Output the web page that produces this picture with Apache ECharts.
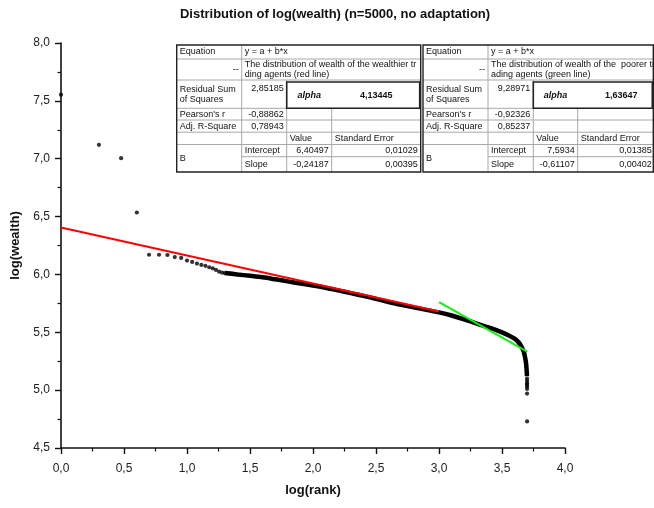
<!DOCTYPE html>
<html>
<head>
<meta charset="utf-8">
<script src="https://cdn.jsdelivr.net/npm/echarts@6/dist/echarts.min.js"></script>
<style>
html,body{margin:0;padding:0;background:#fff;}
#c{width:654px;height:508px;}
</style>
</head>
<body>
<div id="c"></div>
<script>
// ---------- data ----------
const chartTitle = 'Distribution of log(wealth) (n=5000, no adaptation)';
const xTitle = 'log(rank)';
const yTitle = 'log(wealth)';

// sparse richest agents (individual dots)
const headLogRank   = [0, 0.301, 0.477, 0.602, 0.699, 0.778, 0.845, 0.903, 0.954, 1.000, 1.041, 1.079, 1.114, 1.146, 1.176, 1.204, 1.230, 1.255, 1.279, 1.301, 1.322, 1.342, 1.362];
const headLogWealth = [7.553, 7.120, 7.005, 6.535, 6.170, 6.170, 6.168, 6.150, 6.143, 6.120, 6.108, 6.094, 6.082, 6.074, 6.062, 6.053, 6.039, 6.024, 6.015, 6.012, 6.010, 6.008, 6.005];

// dense body of the distribution (thousands of overlapping dots)
const bodyLogRank   = [1.30, 1.40, 1.50, 1.60, 1.70, 1.80, 1.90, 2.00, 2.10, 2.20, 2.30, 2.40, 2.50, 2.60, 2.70, 2.80, 2.90, 3.00, 3.10, 3.20, 3.30, 3.40, 3.50, 3.55, 3.60, 3.63, 3.65, 3.67, 3.68, 3.69, 3.695, 3.698];
const bodyLogWealth = [6.012, 6.000, 5.988, 5.975, 5.958, 5.940, 5.922, 5.905, 5.885, 5.862, 5.838, 5.815, 5.789, 5.762, 5.738, 5.715, 5.694, 5.672, 5.645, 5.612, 5.575, 5.540, 5.500, 5.475, 5.445, 5.415, 5.385, 5.340, 5.300, 5.240, 5.180, 5.120];

// poorest agents (tail dots)
const tailLogRank   = [3.699, 3.699, 3.699, 3.699, 3.699, 3.699, 3.699, 3.699];
const tailLogWealth = [5.100, 5.080, 5.060, 5.045, 5.030, 5.010, 4.970, 4.730];

// linear fits (from the tables)
const redFit   = {intercept: 6.40497, slope: -0.24187, from: 0.0, to: 3.0};
const greenFit = {intercept: 7.5934,  slope: -0.61107, from: 3.0, to: 3.70};

// axis ticks
const xTicks = [0, 0.5, 1.0, 1.5, 2.0, 2.5, 3.0, 3.5, 4.0];
const yTicks = [4.5, 5.0, 5.5, 6.0, 6.5, 7.0, 7.5, 8.0];

// table texts
const table1Desc = ['The distribution of wealth of the wealthier tra', 'ding agents (red line)'];
const table1Vals = ['2,85185', '4,13445', '-0,88862', '0,78943', '6,40497', '0,01029', '-0,24187', '0,00395'];
const table2Desc = ['The distribution of wealth of the  poorer tr', 'ading agents (green line)'];
const table2Vals = ['9,28971', '1,63647', '-0,92326', '0,85237', '7,5934', '0,01385', '-0,61107', '0,00402'];

// ---------- build ----------
const zip = (a, b) => a.map((v, i) => [v, b[i]]);
const fitLine = f => [[f.from, f.intercept + f.slope * f.from], [f.to, f.intercept + f.slope * f.to]];
const fmt = v => v.toFixed(1).replace('.', ',');

const FONT = '"Liberation Sans", Arial, sans-serif';
const tfont = '9px ' + FONT;

function buildTable(cols, rows, desc, vals, descWidth, alphaRight, valPad) {
  const els = [];
  const light = '#a8a8a8', dark = '#222';
  const hl = (x1, x2, y, c, w) => els.push({type: 'line', silent: true, z: 101, shape: {x1, y1: y, x2, y2: y}, style: {stroke: c || light, lineWidth: w || 1}});
  const vl = (x, y1, y2, c, w) => els.push({type: 'line', silent: true, z: 101, shape: {x1: x, y1, x2: x, y2}, style: {stroke: c || light, lineWidth: w || 1}});
  const tx = (t, x, y, align, opts) => els.push(Object.assign({type: 'text', silent: true, z: 102, x, y,
    style: Object.assign({text: t, font: tfont, fill: '#111', align: align || 'left', verticalAlign: 'middle'}, (opts || {}))}));
  const [c0, c1, c2, c3, c4] = cols;
  const r = rows;
  els.push({type: 'rect', silent: true, z: 100, shape: {x: c0, y: r[0], width: c4 - c0, height: r[8] - r[0]}, style: {fill: '#fff'}});
  for (let i = 1; i < 8; i++) {
    if (i === 7) { hl(c1, c4, r[i]); } else { hl(c0, c4, r[i]); }
  }
  vl(c1, r[0], r[8]);
  vl(c2, r[2], r[8]);
  vl(c3, r[3], r[8]);
  els.push({type: 'rect', silent: true, z: 103, shape: {x: c2, y: r[2] + 2, width: c4 - c2 - 1, height: r[3] - r[2] - 2}, style: {fill: 'none', stroke: dark, lineWidth: 1.6}});
  els.push({type: 'rect', silent: true, z: 104, shape: {x: c0, y: r[0], width: c4 - c0, height: r[8] - r[0]}, style: {fill: 'none', stroke: dark, lineWidth: 1.4}});
  const mid = i => (r[i] + r[i + 1]) / 2;
  const p = 3;
  tx('Equation', c0 + p, mid(0));
  tx('y = a + b*x', c1 + p, mid(0));
  tx('--', c1 - p, mid(1), 'right');
  tx(desc[0], c1 + p, mid(1) - 4.6, 'left', {width: descWidth, overflow: 'truncate', ellipsis: ''});
  tx(desc[1], c1 + p, mid(1) + 4.6, 'left', {width: descWidth, overflow: 'truncate', ellipsis: ''});
  tx('Residual Sum', c0 + p, r[2] + 9.5);
  tx('of Squares', c0 + p, r[2] + 19.5);
  tx(vals[0], c2 - p, r[2] + 8.5, 'right');
  tx('alpha', (c2 + c3) / 2, mid(2) + 1, 'center', {font: 'italic bold 9px ' + FONT});
  tx(vals[1], (c3 + alphaRight) / 2, mid(2) + 1, 'center', {font: 'bold 9px ' + FONT});
  tx("Pearson's r", c0 + p, mid(3));
  tx(vals[2], c2 - p, mid(3), 'right');
  tx('Adj. R-Square', c0 + p, mid(4));
  tx(vals[3], c2 - p, mid(4), 'right');
  tx('Value', c2 + p, mid(5));
  tx('Standard Error', c3 + p, mid(5));
  tx('B', c0 + p, (r[6] + r[8]) / 2);
  tx('Intercept', c1 + p, mid(6));
  tx(vals[4], c3 - p, mid(6), 'right');
  tx(vals[5], c4 - valPad, mid(6), 'right');
  tx('Slope', c1 + p, mid(7));
  tx(vals[6], c3 - p, mid(7), 'right');
  tx(vals[7], c4 - valPad, mid(7), 'right');
  return els;
}

const rowsY = [45, 59, 80, 108.3, 120, 132.2, 144.5, 156.7, 172];
const graphics = []
  .concat(buildTable([176.7, 241.7, 286.7, 331.7, 420.7], rowsY, table1Desc, table1Vals, 177, 420.7, 3))
  .concat(buildTable([423, 488, 533.3, 577.7, 653.3], rowsY, table2Desc, table2Vals, 300, 665, 1.5));

const chart = echarts.init(document.getElementById('c'), null, {renderer: 'canvas'});
chart.setOption({
  animation: false,
  backgroundColor: '#fff',
  title: {
    text: chartTitle, left: 330, top: 3, textAlign: 'center',
    textStyle: {fontFamily: FONT, fontSize: 13, fontWeight: 'bold', color: '#111'}
  },
  grid: {left: 61, right: 89, top: 43, bottom: 60, outerBoundsMode: 'none', containLabel: false},
  xAxis: {
    type: 'value', min: xTicks[0], max: xTicks[xTicks.length - 1], interval: 0.5,
    name: xTitle, nameLocation: 'middle', nameGap: 36,
    nameTextStyle: {fontFamily: FONT, fontSize: 13, fontWeight: 'bold', color: '#111'},
    axisLine: {show: true, onZero: false, lineStyle: {color: '#111', width: 1.6}},
    axisTick: {show: true, inside: false, length: 6, lineStyle: {color: '#111', width: 1.4}},
    minorTick: {show: true, splitNumber: 2, length: 3.5, lineStyle: {color: '#111', width: 1.2}},
    splitLine: {show: false},
    axisLabel: {formatter: fmt, fontFamily: FONT, fontSize: 12, color: '#222', margin: 15}
  },
  yAxis: {
    type: 'value', min: yTicks[0], max: yTicks[yTicks.length - 1], interval: 0.5,
    name: yTitle, nameLocation: 'middle', nameGap: 34, nameRotate: 90,
    nameTextStyle: {fontFamily: FONT, fontSize: 13, fontWeight: 'bold', color: '#111'},
    axisLine: {show: true, onZero: false, lineStyle: {color: '#111', width: 1.6}},
    axisTick: {show: true, inside: false, length: 6, lineStyle: {color: '#111', width: 1.4}},
    minorTick: {show: true, splitNumber: 2, length: 3.5, lineStyle: {color: '#111', width: 1.2}},
    splitLine: {show: false},
    axisLabel: {formatter: fmt, fontFamily: FONT, fontSize: 12, color: '#222', margin: 11}
  },
  series: [
    {type: 'line', data: zip(bodyLogRank, bodyLogWealth), showSymbol: false, symbol: 'none', smooth: 0.3,
     lineStyle: {color: '#000', width: 4.5}, z: 2, silent: true},
    {type: 'scatter', data: zip(headLogRank, headLogWealth), symbol: 'circle', symbolSize: 4.2,
     itemStyle: {color: '#000'}, z: 3, silent: true},
    {type: 'scatter', data: zip(tailLogRank, tailLogWealth), symbol: 'circle', symbolSize: 4.2,
     itemStyle: {color: '#000'}, z: 3, silent: true},
    {type: 'line', data: fitLine(redFit), showSymbol: false, symbol: 'none',
     lineStyle: {color: '#ff0000', width: 2}, z: 4, silent: true},
    {type: 'line', data: fitLine(greenFit), showSymbol: false, symbol: 'none',
     lineStyle: {color: '#11ee11', width: 2}, z: 4, silent: true}
  ],
  graphic: {elements: graphics}
});
</script>
</body>
</html>
